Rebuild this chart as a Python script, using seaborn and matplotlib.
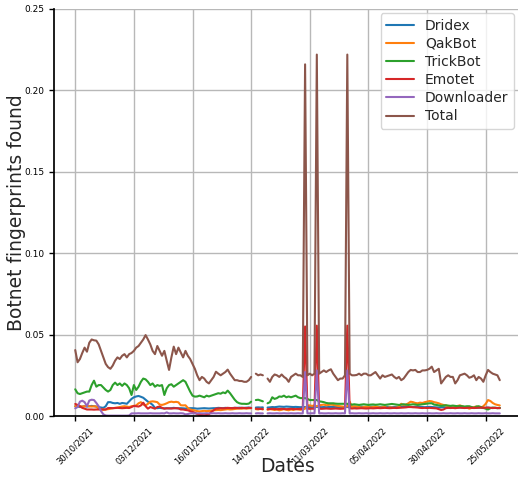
import numpy as np
import pandas as pd
import matplotlib
matplotlib.use("Agg")
import matplotlib.pyplot as plt
import seaborn as sns

nan = float("nan")

series_names = ["Dridex", "QakBot", "TrickBot", "Emotet", "Downloader", "Total"]
series_colors = ["#1f77b4", "#ff7f0e", "#2ca02c", "#d62728", "#9467bd", "#8c564b"]
tick_labels = ["30/10/2021", "03/12/2021", "16/01/2022", "14/02/2022",
               "11/03/2022", "05/04/2022", "30/04/2022", "25/05/2022"]

total = [
    0.0405, 0.033, 0.035, 0.0387, 0.042, 0.0395, 0.045, 0.047, 0.0465, 0.0463,
    0.044, 0.040, 0.036, 0.032, 0.030, 0.029, 0.031, 0.034, 0.036, 0.035,
    0.037, 0.038, 0.036, 0.038, 0.0387, 0.040, 0.042, 0.043, 0.045, 0.047,
    0.0497, 0.047, 0.044, 0.040, 0.038, 0.043, 0.040, 0.037, 0.040, 0.034,
    0.0283, 0.036, 0.0426, 0.038, 0.042, 0.039, 0.036, 0.040, 0.037, 0.035,
    0.032, 0.029, 0.025, 0.022, 0.024, 0.023, 0.021, 0.020, 0.022, 0.024,
    0.0272, 0.026, 0.025, 0.026, 0.027, 0.0285, 0.026, 0.024, 0.022, 0.022,
    0.0215, 0.0215, 0.021, 0.021, 0.022, 0.024, nan, 0.026, 0.025, 0.0255,
    0.025, nan, 0.023, 0.021, 0.024, 0.0255, 0.025, 0.024, 0.0255, 0.024,
    0.023, 0.021, 0.024, 0.025, 0.026, 0.025, 0.025, 0.024, 0.216, 0.025,
    0.026, 0.025, 0.026, 0.222, 0.026, 0.027, 0.028, 0.027, 0.028, 0.0287,
    0.026, 0.024, 0.022, 0.023, 0.023, 0.025, 0.222, 0.026, 0.025, 0.025,
    0.0252, 0.026, 0.025, 0.026, 0.026, 0.025, 0.025, 0.026, 0.027, 0.025,
    0.023, 0.025, 0.024, 0.0245, 0.025, 0.0255, 0.024, 0.023, 0.024, 0.022,
    0.023, 0.025, 0.027, 0.0283, 0.028, 0.0283, 0.027, 0.027, 0.028, 0.028,
    0.0283, 0.029, 0.0303, 0.027, 0.028, 0.029, 0.020, 0.022, 0.024, 0.025,
    0.024, 0.024, 0.020, 0.022, 0.025, 0.0255, 0.026, 0.025, 0.0235, 0.024,
    0.025, 0.022, 0.024, 0.023, 0.021, 0.025, 0.0283, 0.027, 0.026, 0.0255,
    0.025, 0.022,
]

trickbot = [
    0.0164, 0.014, 0.0135, 0.014, 0.0145, 0.015, 0.015, 0.019, 0.0217, 0.018,
    0.019, 0.019, 0.0175, 0.016, 0.015, 0.016, 0.019, 0.0205, 0.019, 0.020,
    0.0185, 0.020, 0.019, 0.017, 0.0129, 0.019, 0.016, 0.018, 0.021, 0.023,
    0.0225, 0.021, 0.019, 0.020, 0.018, 0.019, 0.0185, 0.019, 0.0129, 0.017,
    0.019, 0.0195, 0.018, 0.019, 0.020, 0.021, 0.022, 0.021, 0.018, 0.015,
    0.0125, 0.0119, 0.012, 0.0125, 0.012, 0.0115, 0.0125, 0.012, 0.0125, 0.013,
    0.0135, 0.014, 0.0137, 0.0145, 0.014, 0.0156, 0.014, 0.012, 0.010, 0.0085,
    0.0078, 0.0075, 0.0075, 0.0074, 0.0076, 0.0088, nan, 0.0098, 0.010, 0.0095,
    0.009, nan, 0.0078, 0.0085, 0.0115, 0.0105, 0.011, 0.012, 0.0118, 0.0125,
    0.0115, 0.012, 0.0115, 0.012, 0.0125, 0.0115, 0.011, 0.011, 0.011, 0.0105,
    0.0098, 0.0098, 0.0098, 0.0098, 0.009, 0.0088, 0.0085, 0.008, 0.0078, 0.0078,
    0.0078, 0.0076, 0.0075, 0.0075, 0.0075, 0.0075, 0.0075, 0.0072, 0.0070, 0.0072,
    0.0070, 0.0068, 0.0070, 0.0072, 0.0070, 0.0068, 0.0070, 0.0071, 0.0069, 0.0070,
    0.0072, 0.0070, 0.0068, 0.0070, 0.0072, 0.0074, 0.0072, 0.0070, 0.0068, 0.0070,
    0.0072, 0.0070, 0.0068, 0.0070, 0.0072, 0.0070, 0.0068, 0.0070, 0.0072, 0.0074,
    0.0076, 0.0078, 0.0078, 0.0070, 0.0068, 0.0065, 0.0062, 0.0064, 0.0066, 0.0064,
    0.0062, 0.0064, 0.0062, 0.0060, 0.0062, 0.0060, 0.0058, 0.0060, 0.0060, 0.0055,
    0.0050, 0.0058, 0.0060, 0.0055, 0.0050, 0.0045, 0.0040, 0.0048, 0.0052, 0.0050,
    0.0048, 0.0050,
]

dridex = [
    0.0060, 0.0058, 0.0055, 0.0058, 0.0060, 0.0058, 0.0060, 0.0062, 0.0060, 0.0058,
    0.0055, 0.0052, 0.0050, 0.0060, 0.0085, 0.0085, 0.0080, 0.0078, 0.0080, 0.0075,
    0.0080, 0.0078, 0.0075, 0.0090, 0.0105, 0.0115, 0.0120, 0.0123, 0.0118, 0.0112,
    0.0100, 0.0088, 0.0080, 0.0068, 0.0050, 0.0048, 0.0050, 0.0048, 0.0047, 0.0048,
    0.0047, 0.0048, 0.0050, 0.0048, 0.0047, 0.0048, 0.0047, 0.0046, 0.0047, 0.0048,
    0.0048, 0.0047, 0.0045, 0.0046, 0.0047, 0.0048, 0.0047, 0.0046, 0.0047, 0.0048,
    0.0048, 0.0050, 0.0049, 0.0048, 0.0050, 0.0049, 0.0048, 0.0049, 0.0050, 0.0050,
    0.0051, 0.0050, 0.0050, 0.0051, 0.0052, 0.0050, nan, 0.0052, 0.0053, 0.0052,
    0.0053, nan, 0.0052, 0.0053, 0.0055, 0.0054, 0.0056, 0.0058, 0.0057, 0.0056,
    0.0058, 0.0057, 0.0056, 0.0055, 0.0056, 0.0055, 0.0054, 0.0055, 0.0055, 0.0054,
    0.0055, 0.0056, 0.0055, 0.0056, 0.0055, 0.0054, 0.0055, 0.0054, 0.0055, 0.0056,
    0.0055, 0.0056, 0.0055, 0.0054, 0.0055, 0.0056, 0.0055, 0.0056, 0.0057, 0.0056,
    0.0055, 0.0056, 0.0057, 0.0056, 0.0055, 0.0056, 0.0057, 0.0058, 0.0057, 0.0056,
    0.0055, 0.0056, 0.0057, 0.0056, 0.0055, 0.0054, 0.0055, 0.0056, 0.0055, 0.0056,
    0.0057, 0.0058, 0.0057, 0.0056, 0.0055, 0.0056, 0.0057, 0.0056, 0.0055, 0.0054,
    0.0055, 0.0056, 0.0055, 0.0054, 0.0053, 0.0052, 0.0053, 0.0054, 0.0053, 0.0052,
    0.0053, 0.0052, 0.0051, 0.0052, 0.0053, 0.0052, 0.0051, 0.0050, 0.0051, 0.0052,
    0.0051, 0.0050, 0.0051, 0.0050, 0.0049, 0.0050, 0.0051, 0.0050, 0.0049, 0.0050,
    0.0049, 0.0050,
]

qakbot = [
    0.0060, 0.0062, 0.0060, 0.0058, 0.0060, 0.0062, 0.0060, 0.0058, 0.0060, 0.0058,
    0.0045, 0.0040, 0.0038, 0.0040, 0.0042, 0.0045, 0.0048, 0.0050, 0.0052, 0.0055,
    0.0058, 0.0060, 0.0058, 0.0055, 0.0060, 0.0062, 0.0065, 0.0078, 0.0085, 0.0070,
    0.0065, 0.0075, 0.0088, 0.0090, 0.0088, 0.0085, 0.0070, 0.0068, 0.0072, 0.0078,
    0.0085, 0.0088, 0.0085, 0.0087, 0.0084, 0.0066, 0.0065, 0.0066, 0.0050, 0.0040,
    0.0037, 0.0034, 0.0030, 0.0028, 0.0030, 0.0032, 0.0030, 0.0031, 0.0033, 0.0035,
    0.0036, 0.0037, 0.0036, 0.0038, 0.0040, 0.0042, 0.0040, 0.0041, 0.0043, 0.0045,
    0.0046, 0.0045, 0.0047, 0.0046, 0.0047, 0.0048, nan, 0.0042, 0.0040, 0.0045,
    0.0040, nan, 0.0038, 0.0042, 0.0040, 0.0037, 0.0040, 0.0035, 0.0038, 0.0042,
    0.0038, 0.0035, 0.0040, 0.0037, 0.0042, 0.0040, 0.0038, 0.0040, 0.0045, 0.0065,
    0.0065, 0.0062, 0.0065, 0.0060, 0.0065, 0.0068, 0.0070, 0.0066, 0.0068, 0.0070,
    0.0068, 0.0065, 0.0062, 0.0060, 0.0058, 0.0055, 0.0060, 0.0088, 0.0055, 0.0060,
    0.0058, 0.0055, 0.0052, 0.0055, 0.0057, 0.0055, 0.0053, 0.0055, 0.0058, 0.0055,
    0.0052, 0.0054, 0.0055, 0.0050, 0.0053, 0.0052, 0.0050, 0.0052, 0.0055, 0.0075,
    0.0068, 0.0070, 0.0078, 0.0088, 0.0085, 0.0080, 0.0078, 0.0082, 0.0080, 0.0085,
    0.0088, 0.0092, 0.0090, 0.0085, 0.0082, 0.0078, 0.0072, 0.0068, 0.0065, 0.0060,
    0.0055, 0.0050, 0.0058, 0.0062, 0.0065, 0.0060, 0.0055, 0.0052, 0.0045, 0.0050,
    0.0055, 0.0058, 0.0055, 0.0052, 0.0060, 0.0075, 0.0098, 0.0092, 0.0080, 0.0072,
    0.0068, 0.0065,
]

emotet = [
    0.0074, 0.0068, 0.0060, 0.0050, 0.0045, 0.0040, 0.0040, 0.0040, 0.0039, 0.0040,
    0.0040, 0.0041, 0.0040, 0.0040, 0.0049, 0.0049, 0.0048, 0.0049, 0.0050, 0.0049,
    0.0048, 0.0049, 0.0050, 0.0049, 0.0055, 0.0062, 0.0060, 0.0058, 0.0065, 0.0082,
    0.0060, 0.0045, 0.0055, 0.0050, 0.0045, 0.0055, 0.0058, 0.0050, 0.0045, 0.0047,
    0.0047, 0.0046, 0.0047, 0.0048, 0.0047, 0.0040, 0.0040, 0.0037, 0.0035, 0.0030,
    0.0025, 0.0020, 0.0012, 0.0006, 0.0006, 0.0005, 0.0006, 0.0010, 0.0025, 0.0035,
    0.0045, 0.0046, 0.0048, 0.0047, 0.0048, 0.0050, 0.0049, 0.0048, 0.0050, 0.0049,
    0.0048, 0.0050, 0.0049, 0.0048, 0.0050, 0.0049, nan, 0.0045, 0.0044, 0.0043,
    0.0043, nan, 0.0042, 0.0043, 0.0044, 0.0043, 0.0042, 0.0043, 0.0044, 0.0043,
    0.0042, 0.0043, 0.0044, 0.0043, 0.0042, 0.0043, 0.0044, 0.0043, 0.0550, 0.0045,
    0.0044, 0.0045, 0.0044, 0.0555, 0.0045, 0.0044, 0.0045, 0.0046, 0.0045, 0.0044,
    0.0045, 0.0046, 0.0045, 0.0044, 0.0045, 0.0046, 0.0555, 0.0047, 0.0046, 0.0047,
    0.0046, 0.0047, 0.0048, 0.0047, 0.0046, 0.0047, 0.0048, 0.0047, 0.0048, 0.0049,
    0.0048, 0.0049, 0.0050, 0.0049, 0.0048, 0.0049, 0.0050, 0.0049, 0.0050, 0.0051,
    0.0052, 0.0053, 0.0055, 0.0055, 0.0054, 0.0053, 0.0052, 0.0050, 0.0049, 0.0050,
    0.0049, 0.0050, 0.0049, 0.0048, 0.0047, 0.0042, 0.0037, 0.0040, 0.0048, 0.0050,
    0.0049, 0.0050, 0.0048, 0.0050, 0.0051, 0.0050, 0.0049, 0.0050, 0.0051, 0.0050,
    0.0049, 0.0050, 0.0051, 0.0052, 0.0050, 0.0051, 0.0052, 0.0050, 0.0049, 0.0050,
    0.0049, 0.0048,
]

downloader = [
    0.0047, 0.0055, 0.0088, 0.0094, 0.0085, 0.0060, 0.0095, 0.0100, 0.0098, 0.0080,
    0.0060, 0.0030, 0.0010, 0.0003, 0.0002, 0.0002, 0.0002, 0.0002, 0.0002, 0.0002,
    0.0002, 0.0002, 0.0002, 0.0003, 0.0016, 0.0016, 0.0016, 0.0017, 0.0016, 0.0016,
    0.0016, 0.0016, 0.0017, 0.0016, 0.0016, 0.0016, 0.0016, 0.0017, 0.0016, 0.0022,
    0.0016, 0.0016, 0.0017, 0.0016, 0.0016, 0.0017, 0.0016, 0.0010, 0.0012, 0.0016,
    0.0017, 0.0016, 0.0016, 0.0017, 0.0016, 0.0016, 0.0017, 0.0016, 0.0016, 0.0017,
    0.0016, 0.0017, 0.0016, 0.0016, 0.0017, 0.0016, 0.0016, 0.0017, 0.0016, 0.0016,
    0.0017, 0.0016, 0.0016, 0.0017, 0.0016, 0.0016, nan, 0.0016, 0.0017, 0.0016,
    0.0016, nan, 0.0016, 0.0017, 0.0016, 0.0016, 0.0017, 0.0016, 0.0016, 0.0017,
    0.0016, 0.0016, 0.0017, 0.0016, 0.0016, 0.0017, 0.0016, 0.0016, 0.0270, 0.0016,
    0.0016, 0.0017, 0.0016, 0.0280, 0.0016, 0.0017, 0.0016, 0.0016, 0.0017, 0.0016,
    0.0016, 0.0017, 0.0016, 0.0016, 0.0017, 0.0016, 0.0280, 0.0016, 0.0017, 0.0016,
    0.0016, 0.0017, 0.0016, 0.0016, 0.0017, 0.0016, 0.0016, 0.0017, 0.0016, 0.0016,
    0.0017, 0.0016, 0.0016, 0.0017, 0.0016, 0.0016, 0.0017, 0.0016, 0.0016, 0.0017,
    0.0016, 0.0016, 0.0017, 0.0016, 0.0016, 0.0017, 0.0016, 0.0016, 0.0017, 0.0016,
    0.0016, 0.0017, 0.0016, 0.0016, 0.0017, 0.0016, 0.0016, 0.0017, 0.0016, 0.0016,
    0.0017, 0.0016, 0.0016, 0.0017, 0.0016, 0.0016, 0.0017, 0.0016, 0.0016, 0.0017,
    0.0016, 0.0016, 0.0017, 0.0016, 0.0016, 0.0017, 0.0016, 0.0016, 0.0017, 0.0016,
    0.0016, 0.0016,
]

all_series = [dridex, qakbot, trickbot, emotet, downloader, total]
n = len(total)
for s in all_series:
    assert len(s) == n, len(s)

idx = np.arange(n)
frames = []
for name, vals in zip(series_names, all_series):
    v = np.asarray(vals, dtype=float)
    seg = np.cumsum(np.isnan(v))
    df = pd.DataFrame({"idx": idx, "value": v, "series": name, "seg": seg})
    frames.append(df[~np.isnan(v)])
data = pd.concat(frames, ignore_index=True)

sns.set_style("ticks")
W, H = 518, 479
fig = plt.figure(figsize=(W / 100, H / 100), dpi=100)
ax = fig.add_axes([54 / W, 1 - 416 / H, (521 - 54) / W, (416 - 9) / H])

sns.lineplot(data=data, x="idx", y="value", hue="series", units="seg",
             estimator=None, hue_order=series_names,
             palette=dict(zip(series_names, series_colors)),
             linewidth=1.5, ax=ax)

ax.set_ylim(0, 0.25)
ax.set_yticks([0, 0.05, 0.10, 0.15, 0.20, 0.25])
ax.set_yticklabels(["0.00", "0.05", "0.10", "0.15", "0.20", "0.25"])
step = 25
ax.set_xticks(list(range(0, step * len(tick_labels), step)))
ax.set_xticklabels(tick_labels, rotation=45)
ax.tick_params(axis="both", colors="black", width=1, length=3.5)
ax.tick_params(axis="x", labelsize=6)
ax.tick_params(axis="y", labelsize=6.5)
ax.grid(True, color="#b8b8b8", linewidth=1.0)
ax.set_axisbelow(True)
for side in ["top", "right"]:
    ax.spines[side].set_visible(False)
for side in ["left", "bottom"]:
    ax.spines[side].set_color("black")
    ax.spines[side].set_linewidth(1.25)

ax.set_xlabel("Dates", fontsize=13.5)
ax.set_ylabel("Botnet fingerprints found", fontsize=13.5)
ax.xaxis.set_label_coords((288 - 54) / 467, (416 - 457) / 407)
ax.yaxis.set_label_coords((26 - 54) / 467, 0.5)

handles, labels = ax.get_legend_handles_labels()
ax.legend(handles, labels, loc="upper right",
          bbox_to_anchor=(514 / W, 1 - 13 / H), bbox_transform=fig.transFigure,
          borderaxespad=0, fontsize=10, labelspacing=0.3, frameon=True)

fig.savefig("out.png", dpi=100)
